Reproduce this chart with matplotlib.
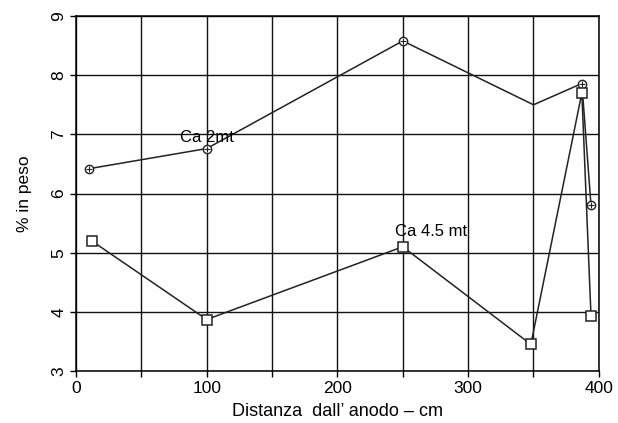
import numpy as np
import matplotlib.pyplot as plt

# upper series (Ca 2 mt), circles
x_up = [10, 100, 250, 350, 387, 394]
y_up = [6.42, 6.76, 8.58, 7.5, 7.86, 5.8]
mark_up = [True, True, True, False, True, True]

# lower series (Ca 4.5 mt), squares
x_lo = [12, 100, 250, 348, 387, 394]
y_lo = [5.2, 3.87, 5.1, 3.45, 7.7, 3.93]

xticks = [0, 100, 200, 300, 400]
yticks = [3, 4, 5, 6, 7, 8, 9]

plt.rcParams['font.family'] = ['Liberation Sans', 'DejaVu Sans']

fig = plt.figure(figsize=(6.18, 4.23), dpi=100)
ax = fig.add_axes([0.123, 0.123, 0.846, 0.839])

ax.set_xlim(0, 400)
ax.set_ylim(3, 9)
ax.set_xticks(xticks)
ax.set_xticks(np.arange(0, 401, 50), minor=True)
ax.set_yticks(yticks)
ax.grid(True, which='both', color='#111111', lw=1.0)
ax.set_axisbelow(True)
for s in ax.spines.values():
    s.set_linewidth(1.1)
ax.tick_params(which='both', direction='out', length=4, width=1.0, labelsize=12.5, pad=3)
for lab in ax.get_yticklabels():
    lab.set_rotation(90)
    lab.set_va('center')

ax.plot(x_up, y_up, color='#222222', lw=1.1, zorder=3)
mx = [x for x, m in zip(x_up, mark_up) if m]
my = [y for y, m in zip(y_up, mark_up) if m]
ax.plot(mx, my, 'o', ms=6, mfc='white', mec='#222222', mew=1.0, zorder=4)
ax.plot(mx, my, '+', ms=5, color='#222222', mew=0.8, zorder=5)

ax.plot(x_lo, y_lo, color='#222222', lw=1.1, zorder=3)
ax.plot(x_lo, y_lo, 's', ms=7, mfc='white', mec='#222222', mew=1.1, zorder=4)

ax.text(100, 6.95, 'Ca 2mt', fontsize=12, ha='center', va='center', zorder=6)
ax.text(272, 5.35, 'Ca 4.5 mt', fontsize=12, ha='center', va='center', zorder=6)

ax.set_ylabel('% in peso', fontsize=12.5, labelpad=14)
ax.set_xlabel('Distanza  dall\u2019 anodo \u2013 cm', fontsize=13, labelpad=5)

fig.savefig('out.png', dpi=100)
